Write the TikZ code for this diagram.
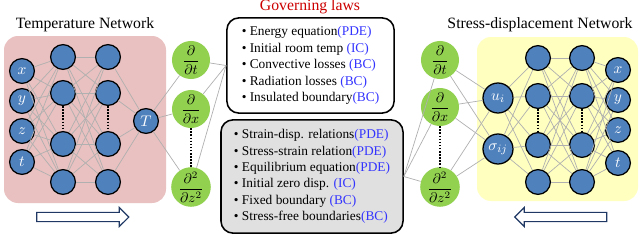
\documentclass[tikz,border=0pt]{standalone}
\usepackage{fontspec}
\setmainfont{Liberation Serif}
\usetikzlibrary{positioning, shapes.arrows}
\definecolor{tempbg}{HTML}{E8C1C0}
\definecolor{stressbg}{HTML}{FFFFC0}
\definecolor{nnblue}{HTML}{4F81BD}
\definecolor{nngreen}{HTML}{92D050}
\definecolor{lawgray}{HTML}{E0E0E0}
\definecolor{lawred}{HTML}{CC0000}
\definecolor{lawblue}{HTML}{3333FF}
\definecolor{linkgray}{HTML}{B0B0B0}
\definecolor{arrownavy}{HTML}{203864}
\newcommand{\lawtag}[1]{\textcolor{lawblue}{(#1)}}

\begin{document}
\begin{tikzpicture}[x=0.025cm, y=-0.025cm,
  neuron/.style={circle, draw=black, line width=0.9pt, fill=nnblue, minimum size=0.62cm,
    inner sep=0pt, text=white, font=\fontsize{11}{11}\selectfont},
  bigneuron/.style={neuron, minimum size=0.75cm},
  deriv/.style={circle, fill=nngreen, minimum size=0.95cm, inner sep=0pt,
    font=\fontsize{10}{10}\selectfont},
  link/.style={draw=linkgray, line width=0.5pt},
  vdots/.style={line width=1.6pt, dash pattern=on 1.1pt off 1.1pt},
  lawbox/.style={draw=black, line width=1.1pt, rounded corners=0.3cm, align=left,
    inner sep=0pt, font=\fontsize{9.5}{11.7}\selectfont},
  flow/.style={single arrow, draw=arrownavy, line width=0.8pt, fill=white,
    minimum height=2.3cm, minimum width=0.45cm, inner sep=0.1cm,
    single arrow head extend=0.125cm},
  ntitle/.style={font=\fontsize{11.2}{12}\selectfont},
]
\useasboundingbox (0,0) rectangle (640,250);

% ---- LEFT: temperature network ----
\fill[tempbg, rounded corners=0.35cm] (4,36) rectangle (166,203);
\node[ntitle] (ttitle) at (85,25) {Temperature Network};
\node[neuron] (tin1) at (22,71) {$x$};
\node[neuron] (tin2) at (22,101) {$y$};
\node[neuron] (tin3) at (22,131) {$z$};
\node[neuron] (tin4) at (22,162) {$t$};
\foreach \i/\yy in {1/57,2/93,3/144,4/182} {
  \node[neuron] (ta\i) at (63,\yy) {};
  \node[neuron] (tb\i) at (108,\yy) {};
}
\node[neuron] (tout) at (146,121) {$T$};
\foreach \i in {1,...,4} \foreach \j in {1,...,4} {
  \draw[link] (tin\i) -- (ta\j);
  \draw[link] (ta\i) -- (tb\j);
}
\foreach \i in {1,...,4} \draw[link] (tb\i) -- (tout);
\draw[vdots] (ta2) -- (ta3);
\draw[vdots] (tb2) -- (tb3);
\node[flow] (tflow) at (80.5,217) {};

% derivatives of T
\node[deriv] (tdt) at (191,60) {$\displaystyle\frac{\partial}{\partial t}$};
\node[deriv] (tdx) at (191,109) {$\displaystyle\frac{\partial}{\partial x}$};
\node[deriv] (tdz) at (191,187) {$\displaystyle\frac{\partial^2}{\partial z^2}$};
\draw[vdots] (tdx) -- (tdz);
\foreach \n in {tdt,tdx,tdz} \draw[link] (tout) -- (\n);

% ---- MIDDLE: governing laws ----
\node[ntitle, text=lawred] (lawtitle) at (310,7) {Governing laws};
\node[lawbox, fill=white, minimum width=4.18cm, minimum height=2.38cm] (tlaws) at (310.5,65.5) {%
  \textbullet\ Energy equation\lawtag{PDE}\\
  \textbullet\ Initial room temp \lawtag{IC}\\
  \textbullet\ Convective losses \lawtag{BC}\\
  \textbullet\ Radiation losses \lawtag{BC}\\
  \textbullet\ Insulated boundary\lawtag{BC}};
\node[lawbox, fill=lawgray, minimum width=4.55cm, minimum height=2.83cm] (slaws) at (312,176.5) {%
  \textbullet\ Strain-disp. relations\lawtag{PDE}\\
  \textbullet\ Stress-strain relation\lawtag{PDE}\\
  \textbullet\ Equilibrium equation\lawtag{PDE}\\
  \textbullet\ Initial zero disp. \lawtag{IC}\\
  \textbullet\ Fixed boundary \lawtag{BC}\\
  \textbullet\ Stress-free boundaries\lawtag{BC}};
\foreach \n in {tdt,tdx,tdz} \draw[link] (\n) -- (tlaws.west);

% ---- RIGHT: stress-displacement network ----
\fill[stressbg, rounded corners=0.35cm] (477,37) rectangle (638,201);
\node[ntitle] (stitle) at (540,25) {Stress-displacement Network};
\node[deriv] (sdt) at (440,60) {$\displaystyle\frac{\partial}{\partial t}$};
\node[deriv] (sdx) at (440,107) {$\displaystyle\frac{\partial}{\partial x}$};
\node[deriv] (sdz) at (440,187) {$\displaystyle\frac{\partial^2}{\partial z^2}$};
\draw[vdots] (sdx) -- (sdz);
\node[bigneuron] (su) at (498,98) {$u_i$};
\node[bigneuron] (ssig) at (498,149) {$\sigma_{ij}$};
\foreach \n in {sdt,sdx,sdz} {
  \draw[link] (slaws.east) -- (\n);
  \draw[link] (\n) -- (su);
  \draw[link] (\n) -- (ssig);
}
\foreach \i/\yy in {1/58,2/96,3/145,4/182} {
  \node[neuron] (sa\i) at (538,\yy) {};
  \node[neuron] (sb\i) at (582,\yy) {};
}
\node[neuron] (sout1) at (618,70) {$x$};
\node[neuron] (sout2) at (618,100) {$y$};
\node[neuron] (sout3) at (618,130) {$z$};
\node[neuron] (sout4) at (618,163) {$t$};
\foreach \i in {1,...,4} {
  \draw[link] (su) -- (sa\i);
  \draw[link] (ssig) -- (sa\i);
}
\foreach \i in {1,...,4} \foreach \j in {1,...,4} {
  \draw[link] (sa\i) -- (sb\j);
  \draw[link] (sb\i) -- (sout\j);
}
\draw[vdots] (sa2) -- (sa3);
\draw[vdots] (sb2) -- (sb3);
\node[flow, shape border rotate=180] (sflow) at (563,217) {};

\end{tikzpicture}
\end{document}
